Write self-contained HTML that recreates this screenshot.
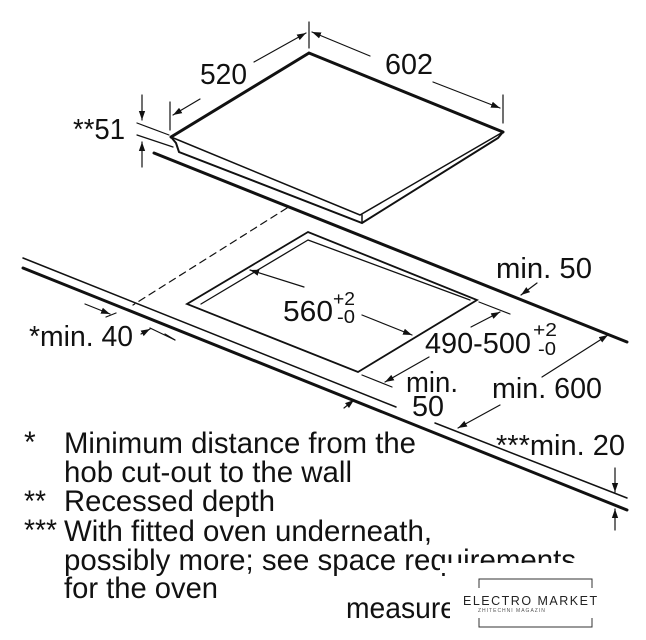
<!DOCTYPE html>
<html><head><meta charset="utf-8"><style>
html,body{margin:0;padding:0;background:#fff;}
svg{display:block;}
text{font-family:"Liberation Sans",Arial,sans-serif;fill:#111;}
</style></head><body>
<svg width="646" height="640" viewBox="0 0 646 640" xmlns="http://www.w3.org/2000/svg">
<defs>
<marker id="a" viewBox="0 0 10 10" refX="10" refY="5" markerWidth="9" markerHeight="9" orient="auto-start-reverse" markerUnits="userSpaceOnUse"><path d="M0,1.5 L10,5 L0,8.5 z" fill="#111"/></marker>
</defs>
<g stroke="#111" fill="none" stroke-linecap="round">
<path d="M171,137 L309,53 L503,132" stroke-width="3"/>
<path d="M171,137 L360,215 L503,132" stroke-width="1.5"/>
<path d="M171,137 L176,143 L179,152 L362,223 L498,138 L503,132" stroke-width="2"/>
<path d="M362,215 L362,223" stroke-width="1.5"/>
<path d="M309,22 L309,48 M503,95 L503,123 M170,102 L170,130" stroke-width="1.2"/>
<path d="M254,62 L306,33" stroke-width="1.2" marker-end="url(#a)"/>
<path d="M200,99 L173,115" stroke-width="1.2" marker-end="url(#a)"/>
<path d="M370,56 L312,32" stroke-width="1.2" marker-end="url(#a)"/>
<path d="M433,82 L500,108" stroke-width="1.2" marker-end="url(#a)"/>
<path d="M137,123 L169,135 M137,135 L173,147" stroke-width="1.2"/>
<path d="M142,95 L142,120" stroke-width="1.2" marker-end="url(#a)"/>
<path d="M142,167 L142,142" stroke-width="1.2" marker-end="url(#a)"/>
<path d="M154,153 L627,342" stroke-width="3"/>
<path d="M23,268 L627,510" stroke-width="3"/>
<path d="M23,258 L396,407 M435,423 L627,498" stroke-width="1.5"/>
<path d="M287,208 L133,305" stroke-width="1.2" stroke-dasharray="7,5"/>
<path d="M308,232 L187,304 L358,372 L477,300 Z" stroke-width="1.8"/>
<path d="M308,240 L201,304 M308,240 L470,300" stroke-width="1.3"/>
<path d="M106,317 L116,313 M175,340 L165,334" stroke-width="1.2"/>
<path d="M85,304 L110,314" stroke-width="1.2" marker-end="url(#a)"/>
<path d="M141,334 L150,329" stroke-width="1.2" marker-end="url(#a)"/>
<path d="M175,340 L150,328" stroke-width="1.2"/>
<path d="M304,287 L250,270" stroke-width="1.2" marker-end="url(#a)"/>
<path d="M362,315 L412,335" stroke-width="1.2" marker-end="url(#a)"/>
<path d="M479,302 L510,314" stroke-width="1.2"/>
<path d="M471,327 L500,312" stroke-width="1.2" marker-end="url(#a)"/>
<path d="M429,357 L385,382" stroke-width="1.2" marker-end="url(#a)"/>
<path d="M362,375 L392,387" stroke-width="1.2"/>
<path d="M344,408 L354,400" stroke-width="1.2" marker-end="url(#a)"/>
<path d="M537,283 L521,295" stroke-width="1.2" marker-end="url(#a)"/>
<path d="M542,377 L608,335" stroke-width="1.2" marker-end="url(#a)"/>
<path d="M500,405 L458,428" stroke-width="1.2" marker-end="url(#a)"/>
<path d="M615,468 L615,492" stroke-width="1.2" marker-end="url(#a)"/>
<path d="M615,530 L615,509" stroke-width="1.2" marker-end="url(#a)"/>
</g>
<g font-size="29" lengthAdjust="spacingAndGlyphs">
<text x="200" y="84" textLength="47" lengthAdjust="spacingAndGlyphs">520</text>
<text x="385" y="74" textLength="48" lengthAdjust="spacingAndGlyphs">602</text>
<text x="73" y="139" textLength="52" lengthAdjust="spacingAndGlyphs">**51</text>
<text x="496" y="278" textLength="96" lengthAdjust="spacingAndGlyphs">min. 50</text>
<text x="283" y="321" textLength="50" lengthAdjust="spacingAndGlyphs">560</text>
<text x="333" y="305" font-size="18" textLength="22" lengthAdjust="spacingAndGlyphs">+2</text>
<text x="337" y="323" font-size="18" textLength="18" lengthAdjust="spacingAndGlyphs">-0</text>
<text x="29" y="346" textLength="104" lengthAdjust="spacingAndGlyphs">*min. 40</text>
<text x="425" y="353" textLength="106" lengthAdjust="spacingAndGlyphs">490-500</text>
<text x="533" y="336" font-size="18" textLength="24" lengthAdjust="spacingAndGlyphs">+2</text>
<text x="538" y="355" font-size="18" textLength="18" lengthAdjust="spacingAndGlyphs">-0</text>
<text x="406" y="392" textLength="52" lengthAdjust="spacingAndGlyphs">min.</text>
<text x="412" y="416" textLength="32" lengthAdjust="spacingAndGlyphs">50</text>
<text x="492" y="398" textLength="110" lengthAdjust="spacingAndGlyphs">min. 600</text>
<text x="496" y="455" textLength="129" lengthAdjust="spacingAndGlyphs">***min. 20</text>
</g>
<g font-size="30">
<text x="24" y="452">*</text>
<text x="64" y="453" textLength="352" lengthAdjust="spacingAndGlyphs">Minimum distance from the</text>
<text x="64" y="482" textLength="288" lengthAdjust="spacingAndGlyphs">hob cut-out to the wall</text>
<text x="24" y="511" textLength="22" lengthAdjust="spacingAndGlyphs">**</text>
<text x="64" y="511" textLength="211" lengthAdjust="spacingAndGlyphs">Recessed depth</text>
<text x="24" y="540" textLength="33" lengthAdjust="spacingAndGlyphs">***</text>
<text x="64" y="541" textLength="368" lengthAdjust="spacingAndGlyphs">With fitted oven underneath,</text>
<text x="64" y="570" textLength="512" lengthAdjust="spacingAndGlyphs">possibly more; see space requirements</text>
<text x="64" y="598" textLength="154" lengthAdjust="spacingAndGlyphs">for the oven</text>
<text x="346" y="618" textLength="110" lengthAdjust="spacingAndGlyphs">measure</text>
</g>
<rect x="440" y="563" width="140" height="10" fill="#fff"/>
<rect x="450" y="577" width="160" height="60" fill="#fff"/>
<path d="M479,580 L479,579 L592,579 L592,588 M479,580 L479,588 M479,618 L479,627 L592,627 L592,618" stroke="#333" stroke-width="1" fill="none"/>
<text x="463" y="605" font-size="12.5" letter-spacing="1.5" style="fill:#222">ELECTRO MARKET</text>
<text x="478" y="612" font-size="5" letter-spacing="1" style="fill:#555">ZHITECHNI MAGAZIN</text>
</svg>
</body></html>
